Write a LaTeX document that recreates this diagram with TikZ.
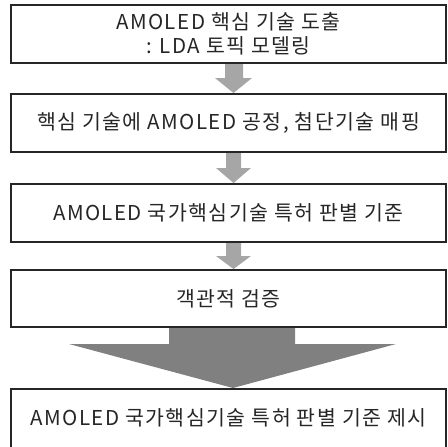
\documentclass[tikz,border=0pt]{standalone}
\usepackage{fontspec}
\setmainfont{Noto Sans CJK KR}[LetterSpace=7]
\begin{document}
\begin{tikzpicture}[x=1pt,y=-1pt,
  stepbox/.style={draw=black!85,line width=1.8pt,fill=white,minimum width=435pt,inner sep=0pt},
  lbl/.style={font=\fontsize{20.5}{23.5}\selectfont,text=black!85,align=center,inner sep=0pt},
  smallarrow/.style={fill=black!35,draw=none},
  bigarrow/.style={fill=black!50,draw=none}]
\useasboundingbox (0,0) rectangle (448,447);
% arrows (behind boxes)
\fill[smallarrow] (225,60) -- (243,60) -- (243,78) -- (252,78) -- (233.5,93) -- (215,78) -- (225,78) -- cycle;
\fill[smallarrow] (226,150) -- (241,150) -- (241,168) -- (251,168) -- (233.5,183) -- (216,168) -- (226,168) -- cycle;
\fill[smallarrow] (226,240) -- (241,240) -- (241,256) -- (251,256) -- (233.5,269) -- (216,256) -- (226,256) -- cycle;
\fill[bigarrow] (169,325) -- (295,325) -- (295,344) -- (396,344) -- (233,388) -- (69,344) -- (169,344) -- cycle;
% boxes
\node[stepbox,minimum height=58pt] (n1) at (228.5,34) {};
\node[stepbox,minimum height=58pt] (n2) at (228.5,123) {};
\node[stepbox,minimum height=58pt] (n3) at (228.5,213) {};
\node[stepbox,minimum height=57pt] (n4) at (228.5,298.5) {};
\node[stepbox,minimum height=71pt] (n5) at (228.5,424.5) {};
% texts
\node[lbl] (b1) at (n1) {AMOLED 핵심 기술 도출\\: LDA 토픽 모델링};
\node[lbl] (b2) at (n2) {핵심 기술에 AMOLED 공정, 첨단기술 매핑};
\node[lbl] (b3) at (n3) {AMOLED 국가핵심기술 특허 판별 기준};
\node[lbl] (b4) at (n4) {객관적 검증};
\node[lbl] (b5) at (228.5,418) {AMOLED 국가핵심기술 특허 판별 기준 제시};
\end{tikzpicture}
\end{document}
